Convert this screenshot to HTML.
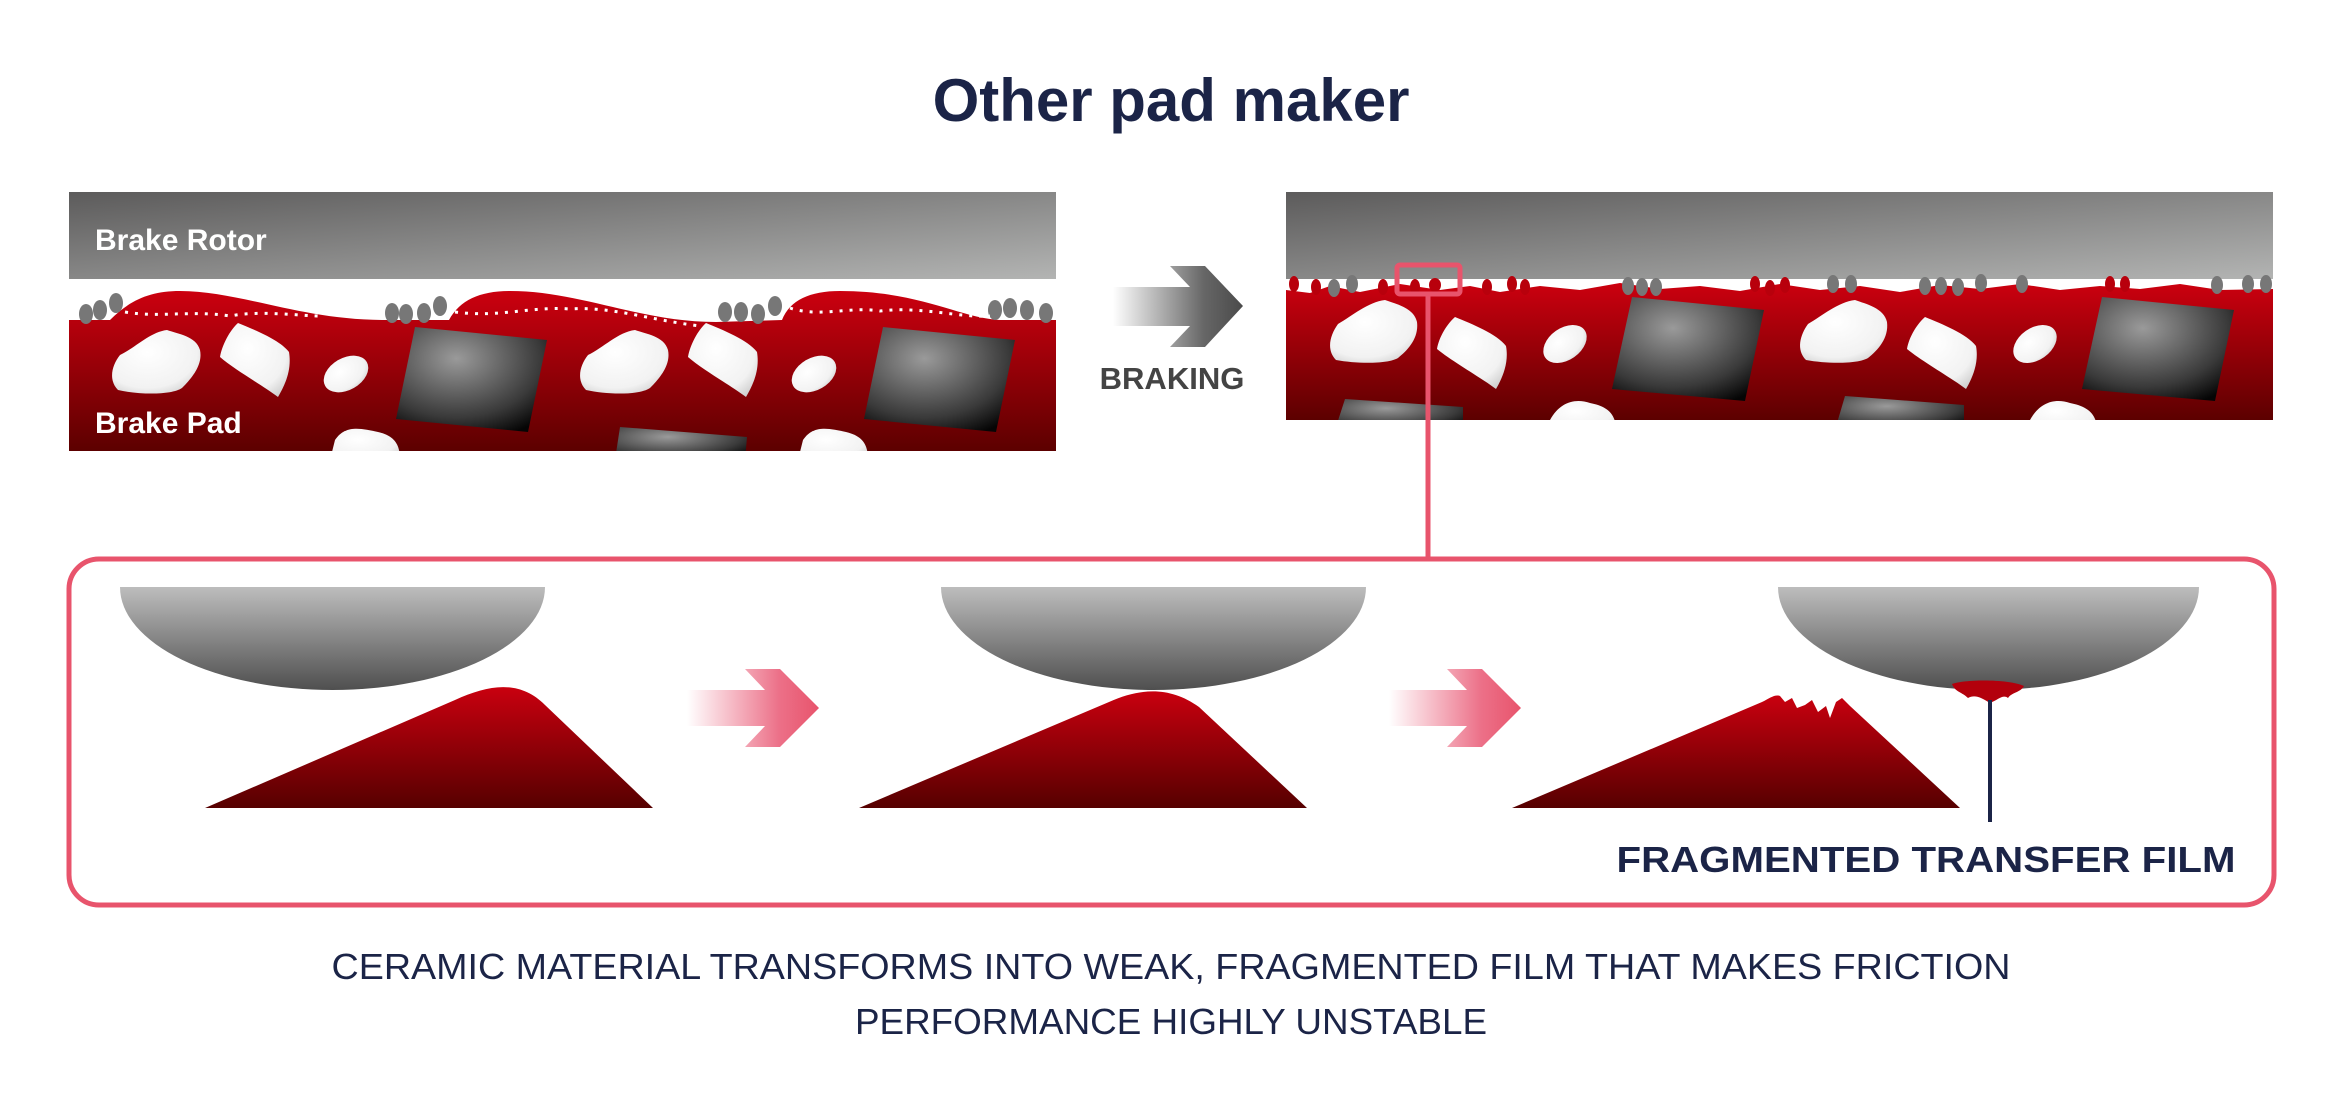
<!DOCTYPE html>
<html><head><meta charset="utf-8"><style>html,body{margin:0;padding:0;background:#fff}svg{display:block}</style></head>
<body>
<svg width="2343" height="1104" viewBox="0 0 2343 1104" xmlns="http://www.w3.org/2000/svg" font-family="Liberation Sans, sans-serif">
<defs>
<linearGradient id="rot" x1="0" y1="0" x2="1" y2="1"><stop offset="0" stop-color="#5c5b5b"/><stop offset="1" stop-color="#b3b4b3"/></linearGradient>
<linearGradient id="pad" x1="0" y1="0" x2="0" y2="1"><stop offset="0" stop-color="#cc000f"/><stop offset="1" stop-color="#5c0000"/></linearGradient>
<linearGradient id="tri" x1="0" y1="0" x2="0" y2="1"><stop offset="0" stop-color="#c9000f"/><stop offset="1" stop-color="#560000"/></linearGradient>
<linearGradient id="ell" x1="0" y1="0" x2="0" y2="1"><stop offset="0" stop-color="#bdbdbd"/><stop offset="1" stop-color="#4f4f4f"/></linearGradient>
<radialGradient id="sq" cx="0.4" cy="0.3" r="0.8"><stop offset="0" stop-color="#9a9a9a"/><stop offset="0.7" stop-color="#3a3a3a"/><stop offset="1" stop-color="#050505"/></radialGradient>
<radialGradient id="wh" cx="0.4" cy="0.35" r="0.8"><stop offset="0" stop-color="#fff"/><stop offset="0.7" stop-color="#f2f2f2"/><stop offset="1" stop-color="#c9c9c9"/></radialGradient>
<linearGradient id="barr" x1="0" y1="0" x2="1" y2="0"><stop offset="0" stop-color="#fff"/><stop offset="0.7" stop-color="#666"/><stop offset="1" stop-color="#4a4a4a"/></linearGradient>
<linearGradient id="parr" x1="0" y1="0" x2="1" y2="0"><stop offset="0" stop-color="#fff"/><stop offset="0.7" stop-color="#ec7088"/><stop offset="1" stop-color="#e8546c"/></linearGradient>
<clipPath id="cl"><rect x="69" y="280" width="987" height="171"/></clipPath>
<clipPath id="cr"><rect x="1286" y="280" width="987" height="140"/></clipPath>
</defs>

<text x="1171" y="121" text-anchor="middle" font-size="60" font-weight="bold" fill="#1b2447">Other pad maker</text>

<!-- LEFT -->
<rect x="69" y="192" width="987" height="87" fill="url(#rot)"/>
<text x="95" y="250" font-size="30" font-weight="bold" fill="#fff">Brake Rotor</text>
<path d="M69 320 L110 320 C130 300 150 291 180 291 C240 291 300 320 384 320 L449 320 C460 300 480 291 510 291 C580 291 640 322 716 322 L782 320 C790 300 810 291 840 291 C920 291 960 318 1000 320 L1056 320 L1056 451 L69 451 Z" fill="url(#pad)"/>
<g clip-path="url(#cl)">
<g id="setL">
<path d="M167 330 C178 334 196 336 200 350 C203 365 192 378 182 388 C172 395 140 395 118 390 C108 380 112 365 120 355 C135 348 150 332 167 330 Z" fill="url(#wh)"/>
<path d="M238 323 C255 330 280 340 289 352 C292 370 285 385 278 397 C262 385 235 370 220 357 C222 345 230 330 238 323 Z" fill="url(#wh)"/>
<ellipse cx="346" cy="374" rx="24" ry="16" transform="rotate(-30 346 374)" fill="url(#wh)"/>
<path d="M415 327 L547 340 L528 432 L396 419 Z" fill="url(#sq)"/>
<path d="M335 440 C345 425 360 428 378 432 C395 436 400 445 400 460 L330 460 Z" fill="url(#wh)"/>
</g>
<use href="#setL" transform="translate(468 0)"/>
<path d="M620 427 L747 437 L745 460 L615 460 Z" fill="url(#sq)"/>
</g>
<g fill="#777">
<ellipse cx="86" cy="314" rx="7" ry="10"/><ellipse cx="100" cy="310" rx="7" ry="10"/><ellipse cx="116" cy="303" rx="7" ry="10"/>
<ellipse cx="392" cy="313" rx="7" ry="10"/><ellipse cx="406" cy="314" rx="7" ry="10"/><ellipse cx="424" cy="313" rx="7" ry="10"/><ellipse cx="440" cy="306" rx="7" ry="10"/>
<ellipse cx="725" cy="312" rx="7" ry="10"/><ellipse cx="741" cy="312" rx="7" ry="10"/><ellipse cx="758" cy="314" rx="7" ry="10"/><ellipse cx="775" cy="306" rx="7" ry="10"/>
<ellipse cx="995" cy="310" rx="7" ry="10"/><ellipse cx="1010" cy="308" rx="7" ry="10"/><ellipse cx="1027" cy="310" rx="7" ry="10"/><ellipse cx="1046" cy="313" rx="7" ry="10"/>
</g>
<path d="M125 312 C160 318 190 310 230 316 C260 310 300 316 320 316 M455 312 C500 318 530 306 570 309 C610 306 650 320 700 326 M790 308 C820 318 850 306 880 311 C920 306 960 318 990 316" stroke="#fff" stroke-width="3" stroke-dasharray="3 7" fill="none"/>
<text x="95" y="433" font-size="30" font-weight="bold" fill="#fff">Brake Pad</text>

<!-- BRAKING ARROW -->
<polygon points="1113,287 1190,287 1170,266 1205,266 1243,306 1205,347 1170,347 1190,326 1113,326" fill="url(#barr)"/>
<text x="1172" y="389" text-anchor="middle" font-size="31" font-weight="bold" fill="#444">BRAKING</text>

<!-- RIGHT -->
<rect x="1286" y="192" width="987" height="87" fill="url(#rot)"/>
<path d="M1286 290 L1310 293 L1330 286 L1360 292 L1400 284 L1440 290 L1470 286 L1500 292 L1540 286 L1580 290 L1620 283 L1660 289 L1700 286 L1740 291 L1780 284 L1820 290 L1860 286 L1900 292 L1940 285 L1980 289 L2020 284 L2060 290 L2100 286 L2140 289 L2180 284 L2220 290 L2273 289 L2273 420 L1286 420 Z" fill="url(#pad)"/>
<g clip-path="url(#cr)">
<g id="setR">
<path d="M1385 300 C1396 304 1414 308 1417 322 C1419 338 1408 350 1398 358 C1388 364 1358 364 1336 360 C1326 350 1330 335 1338 324 C1352 316 1368 302 1385 300 Z" fill="url(#wh)"/>
<path d="M1455 317 C1472 324 1497 334 1506 346 C1509 362 1503 377 1496 389 C1480 377 1453 362 1437 349 C1439 337 1447 324 1455 317 Z" fill="url(#wh)"/>
<ellipse cx="1565" cy="344" rx="24" ry="16" transform="rotate(-35 1565 344)" fill="url(#wh)"/>
<path d="M1632 297 L1764 310 L1745 401 L1612 389 Z" fill="url(#sq)"/>
</g>
<use href="#setR" transform="translate(470 0)"/>
<path d="M1345 399 L1463 407 L1463 430 L1335 430 Z" fill="url(#sq)"/>
<path d="M1550 420 C1560 402 1575 398 1590 403 C1605 406 1616 412 1616 430 L1548 430 Z" fill="url(#wh)"/>
<path d="M1845 396 L1964 405 L1964 430 L1835 430 Z" fill="url(#sq)"/>
<path d="M2030 420 C2040 402 2055 398 2070 403 C2085 406 2097 412 2097 430 L2028 430 Z" fill="url(#wh)"/>
</g>
<g fill="#777">
<ellipse cx="1334" cy="288" rx="6" ry="9"/><ellipse cx="1352" cy="284" rx="6" ry="9"/>
<ellipse cx="1628" cy="286" rx="6" ry="9"/><ellipse cx="1642" cy="287" rx="6" ry="9"/><ellipse cx="1656" cy="287" rx="6" ry="9"/>
<ellipse cx="1833" cy="284" rx="6" ry="9"/><ellipse cx="1851" cy="284" rx="6" ry="9"/>
<ellipse cx="1925" cy="286" rx="6" ry="9"/><ellipse cx="1941" cy="286" rx="6" ry="9"/><ellipse cx="1958" cy="287" rx="6" ry="9"/><ellipse cx="1981" cy="283" rx="6" ry="9"/><ellipse cx="2022" cy="284" rx="6" ry="9"/>
<ellipse cx="2217" cy="285" rx="6" ry="9"/><ellipse cx="2248" cy="284" rx="6" ry="9"/><ellipse cx="2266" cy="284" rx="6" ry="9"/>
</g>
<g fill="#b8000c">
<ellipse cx="1294" cy="284" rx="5" ry="8"/><ellipse cx="1316" cy="287" rx="5" ry="8"/><ellipse cx="1383" cy="287" rx="5" ry="8"/><ellipse cx="1415" cy="287" rx="5" ry="8"/><ellipse cx="1435" cy="285" rx="6" ry="7"/>
<ellipse cx="1487" cy="287" rx="5" ry="8"/><ellipse cx="1512" cy="284" rx="5" ry="8"/><ellipse cx="1525" cy="287" rx="5" ry="8"/>
<ellipse cx="1755" cy="284" rx="5" ry="8"/><ellipse cx="1770" cy="288" rx="5" ry="8"/><ellipse cx="1785" cy="285" rx="5" ry="8"/>
<ellipse cx="2110" cy="284" rx="5" ry="8"/><ellipse cx="2125" cy="284" rx="5" ry="8"/>
</g>
<rect x="1397" y="265" width="63" height="29" rx="3" fill="none" stroke="#e8546c" stroke-width="5"/>
<line x1="1428" y1="294" x2="1428" y2="559" stroke="#e8546c" stroke-width="5"/>

<!-- BOTTOM PANEL -->
<rect x="69" y="559" width="2205" height="346" rx="30" fill="none" stroke="#e8546c" stroke-width="5"/>
<path d="M120 587 A212.5 103 0 0 0 545 587 Z" fill="url(#ell)"/>
<path d="M941 587 A212.5 103 0 0 0 1366 587 Z" fill="url(#ell)"/>
<path d="M1778 587 A210.5 103 0 0 0 2199 587 Z" fill="url(#ell)"/>

<path d="M205 808 L455 700 C490 684 520 680 545 705 L653 808 Z" fill="url(#tri)"/>
<path d="M859 808 L1109 702 C1140 688 1170 686 1199 707 L1307 808 Z" fill="url(#tri)"/>
<path d="M1512 808 L1762 702 C1770 698 1775 694 1780 696 L1785 702 L1792 698 L1797 708 L1805 705 L1812 700 L1818 712 L1826 706 L1830 718 L1836 702 L1842 698 L1850 706 L1960 808 Z" fill="url(#tri)"/>

<polygon points="687,690 765,690 745,669 780,669 819,708 780,747 745,747 765,726 687,726" fill="url(#parr)"/>
<polygon points="1389,690 1467,690 1447,669 1482,669 1521,708 1482,747 1447,747 1467,726 1389,726" fill="url(#parr)"/>

<path d="M1952 684 C1965 679 2010 679 2024 686 C2020 693 2012 692 2008 698 C2003 694 1998 700 1990 703 C1982 698 1975 694 1968 698 C1962 692 1955 692 1952 684 Z" fill="#b3000c"/>
<line x1="1990" y1="700" x2="1990" y2="822" stroke="#1b2447" stroke-width="4"/>
<text x="1926" y="872" text-anchor="middle" font-size="36" font-weight="bold" fill="#1b2447" textLength="619" lengthAdjust="spacingAndGlyphs">FRAGMENTED TRANSFER FILM</text>

<text x="1171" y="979" text-anchor="middle" font-size="36" fill="#1b2447" textLength="1679" lengthAdjust="spacingAndGlyphs">CERAMIC MATERIAL TRANSFORMS INTO WEAK, FRAGMENTED FILM THAT MAKES FRICTION</text>
<text x="1171" y="1034" text-anchor="middle" font-size="36" fill="#1b2447" textLength="632" lengthAdjust="spacingAndGlyphs">PERFORMANCE HIGHLY UNSTABLE</text>
</svg>
</body></html>
